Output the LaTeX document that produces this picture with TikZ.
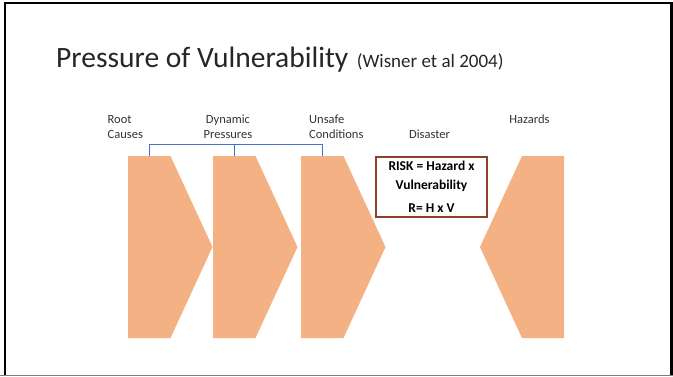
\documentclass[tikz,border=0pt]{standalone}
\usepackage{fontspec}
\setmainfont{Carlito}
\usepackage{xcolor}
\usetikzlibrary{positioning, calc}
\definecolor{chev}{HTML}{F4B183}
\definecolor{brkblue}{HTML}{4472C4}
\definecolor{riskedge}{HTML}{8F3F2B}

\tikzset{
    chevron/.style={fill=chev, draw=none},
    bracket/.style={draw=brkblue, line width=0.9pt},
    lbl/.style={inner sep=0, text=black!80, font=\fontsize{12.5}{15}\selectfont},
    riskbox/.style={draw=riskedge, line width=2.4pt, minimum width=111pt, minimum height=60pt,
        align=center, inner sep=0, font=\bfseries\fontsize{13.5}{18.5}\selectfont}
}

\begin{document}
\begin{tikzpicture}[x=1pt, y=-1pt]
    \useasboundingbox (0,0) rectangle (673,376);
    % frame
    \draw[line width=2.5pt] (5,376) -- (5,3) -- (671.5,3) -- (671.5,376);
    \draw[gray, line width=1pt] (0,375.5) -- (673,375.5);

    % title
    \node[anchor=base west, inner sep=0, text=black!85, font=\fontsize{29.5}{34}\selectfont]
        (title) at (56,67.3) {Pressure of Vulnerability};
    \node[base right=8pt of title, inner sep=0, text=black!85, font=\fontsize{19}{22}\selectfont]
        (cite) {(Wisner et al 2004)};

    % chevrons
    \foreach \x [count=\i] in {128,213,301}{
        \fill[chevron] (\x,156) -- ++(42.5,0) -- ++(42,91) -- ++(-42,91) -- ++(-42.5,0) -- cycle;
        \coordinate (top\i) at (\x+21.25,156);
    }
    \fill[chevron] (564,156) -- ++(-42,0) -- ++(-42,91) -- ++(42,91) -- ++(42,0) -- cycle;

    % bracket
    \coordinate[above=11.5pt of top2] (brkmid);
    \draw[bracket] (top1) |- (brkmid) -| (top3);
    \draw[bracket] (brkmid) -- (top2);

    % labels
    \node[lbl, align=left, anchor=west] (root) at (107.5,127) {Root\\Causes};
    \node[lbl, align=center] (dyn) at (228,126.5) {Dynamic\\Pressures};
    \node[lbl, align=left, anchor=west] (unsafe) at (309,126.5) {Unsafe\\Conditions};
    \node[lbl] (disaster) at (429.5,134) {Disaster};
    \node[lbl] (hazards) at (529.5,119) {Hazards};

    % risk box
    \node[riskbox] (risk) at (431.5,187) {RISK = Hazard x\\Vulnerability\\[5pt]R= H x V};
\end{tikzpicture}
\end{document}
